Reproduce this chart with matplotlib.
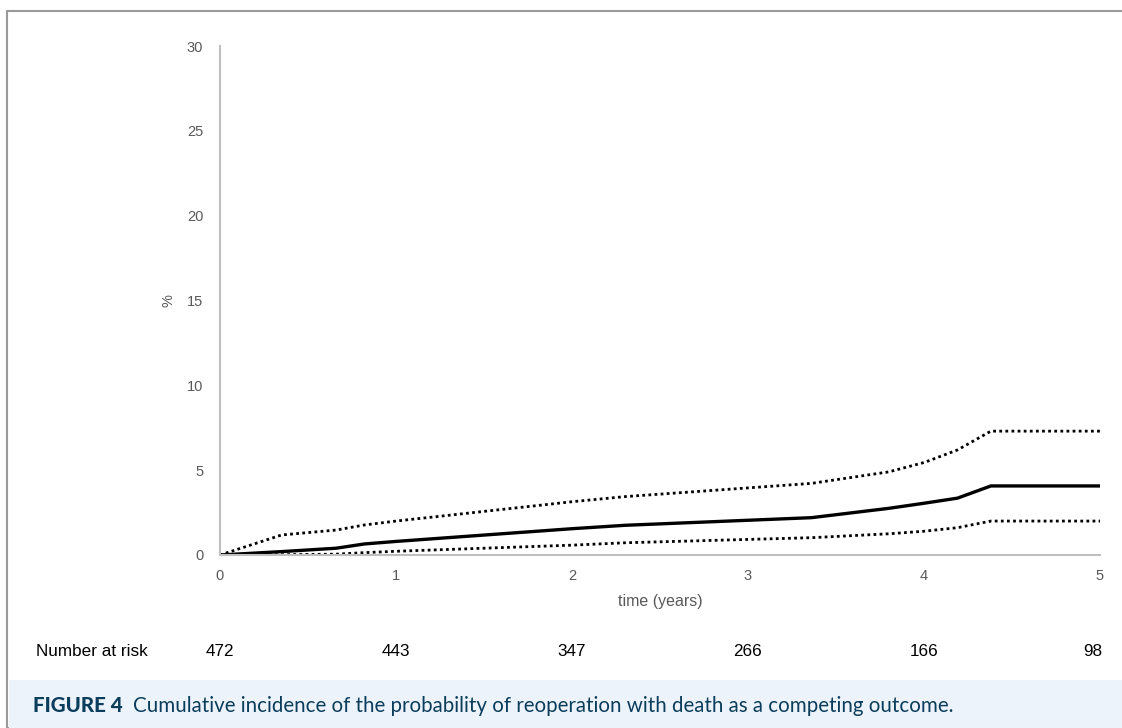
#Cumulative incidence of reoperation with death as competing outcome.
import matplotlib.pyplot as plt
from matplotlib.patches import Rectangle

#Estimated curve values (years, %).
t = [0, 0.35, 0.66, 0.82, 1.0, 2.0, 2.3, 3.36, 3.8, 4.0, 4.19, 4.38, 5.0]
incidence = [0, 0.2, 0.4, 0.65, 0.8, 1.55, 1.75, 2.2, 2.75, 3.05, 3.35, 4.07, 4.07]
upper_ci = [0, 1.18, 1.47, 1.77, 2.0, 3.14, 3.44, 4.22, 4.9, 5.45, 6.19, 7.3, 7.3]
lower_ci = [0, 0.02, 0.05, 0.14, 0.22, 0.58, 0.72, 1.02, 1.25, 1.4, 1.61, 2.0, 2.0]

at_risk_years = [0, 1, 2, 3, 4, 5]
at_risk = [472, 443, 347, 266, 166, 98]

grey_txt = '#595959'
axis_col = '#bfbfbf'

fig = plt.figure(figsize=(11.22, 7.28), dpi=100)
plt.rcParams['font.family'] = ['Liberation Sans', 'DejaVu Sans']

#Outer frame and caption band
fig.patches.append(Rectangle((7/1122, 0), 1.0, 1 - 11/728, transform=fig.transFigure,
                             fill=False, edgecolor='#9a9a9a', lw=1.5))
fig.patches.append(Rectangle((9/1122, 0), 1.0, 48/728, transform=fig.transFigure,
                             facecolor='#edf3fa', edgecolor='none'))

ax = fig.add_axes([220/1122, 1 - 555/728, 880/1122, 509/728])
ax.plot(t, upper_ci, color='black', lw=2, linestyle=(0, (1, 1.2)))
ax.plot(t, lower_ci, color='black', lw=2, linestyle=(0, (1, 1.2)))
ax.plot(t, incidence, color='black', lw=2.4)

ax.set_xlim(0, 5)
ax.set_ylim(0, 30)
ax.set_xticks(at_risk_years)
ax.set_yticks([0, 5, 10, 15, 20, 25, 30])
ax.tick_params(length=0, labelsize=10.5, labelcolor=grey_txt)
ax.tick_params(axis='y', pad=12)
ax.tick_params(axis='x', pad=10)
for s in ['top', 'right']:
    ax.spines[s].set_visible(False)
for s in ['left', 'bottom']:
    ax.spines[s].set_color(axis_col)
    ax.spines[s].set_linewidth(1.5)
ax.set_xlabel('time (years)', fontsize=11.5, color=grey_txt, labelpad=8)
ax.set_ylabel('%', fontsize=10.5, color=grey_txt, labelpad=8)

#Number at risk row
fig.text(36/1122, 1 - 652/728, 'Number at risk', fontsize=12.3, color='black', va='center')
for yr, n in zip(at_risk_years, at_risk):
    x_px = 220 + yr * 176
    if yr == 5:
        x_px = 1093
    fig.text(x_px/1122, 1 - 652/728, str(n), fontsize=12.3, color='black',
             va='center', ha='center')

#Caption
cap_col = '#0b3d5c'
t1 = fig.text(33/1122, 1 - 706/728, 'FIGURE 4', fontsize=14.8, fontweight='black',
              color=cap_col, va='center', family=['Lato', 'DejaVu Sans'])
fig.canvas.draw()
bb = t1.get_window_extent()
fig.text((bb.x1 + 10)/1122, 1 - 706/728,
         'Cumulative incidence of the probability of reoperation with death as a competing outcome.',
         fontsize=14.8, color=cap_col, va='center', family=['Lato', 'DejaVu Sans'])

fig.savefig('out.png', dpi=100)
